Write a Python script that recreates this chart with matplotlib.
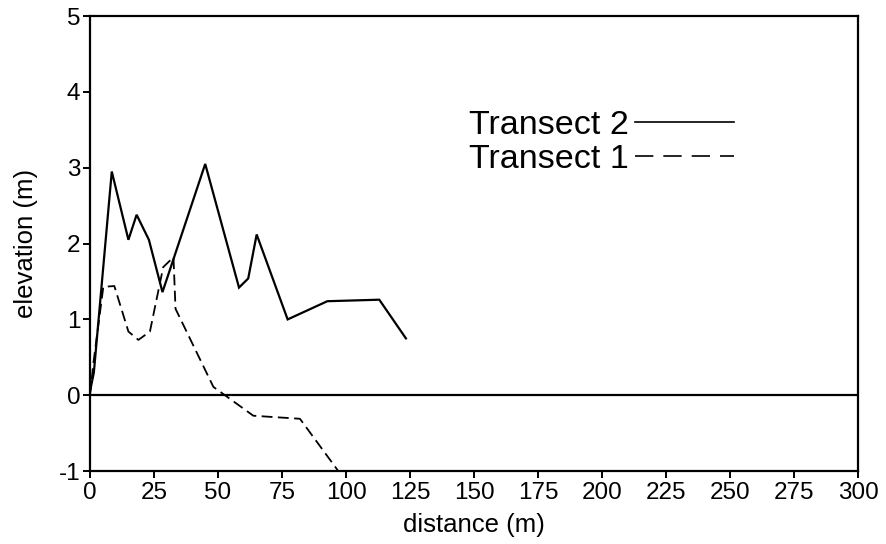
import matplotlib
matplotlib.use("Agg")
import matplotlib.pyplot as plt
from matplotlib.lines import Line2D

plt.rcParams["font.family"] = ["Liberation Sans", "DejaVu Sans"]
plt.rcParams["axes.unicode_minus"] = False

# beach profile, transect 2 (solid)
t2_dist = [0, 1.5, 8.5, 15, 18.2, 23, 28.3, 45, 58.2, 61.8, 65.1, 77.2, 92.7, 113, 123.4]
t2_elev = [0.05, 0.3, 2.95, 2.05, 2.38, 2.05, 1.36, 3.05, 1.42, 1.54, 2.12, 1.0, 1.24, 1.26, 0.75]

# beach profile, transect 1 (dashed)
t1_dist = [0, 1.3, 5.2, 9.5, 15, 18.9, 23.4, 28.6, 32.6, 33.4, 48.2, 63.8, 82, 97]
t1_elev = [0.0, 0.42, 1.43, 1.44, 0.84, 0.73, 0.84, 1.69, 1.82, 1.14, 0.11, -0.27, -0.31, -1.0]

x_ticks = list(range(0, 301, 25))
y_ticks = [-1, 0, 1, 2, 3, 4, 5]

fig = plt.figure(figsize=(8.86, 5.44), dpi=100)
ax = fig.add_axes([0.1016, 0.134, 0.8668, 0.8365])

ax.axhline(0, color="black", lw=1.6, zorder=1)
ax.plot(t2_dist, t2_elev, color="black", lw=1.6, solid_joinstyle="miter")
ax.plot(t1_dist, t1_elev, color="black", lw=1.3, dashes=(6, 3))

ax.set_xlim(0, 300)
ax.set_ylim(-1, 5)
ax.set_xticks(x_ticks)
ax.set_yticks(y_ticks)
ax.tick_params(direction="out", length=5, width=1.4, labelsize=17.5, pad=2)
ax.tick_params(axis="x", pad=3)
for s in ax.spines.values():
    s.set_linewidth(1.6)

ax.set_xlabel("distance (m)", fontsize=18.5, labelpad=6)
ax.set_ylabel("elevation (m)", fontsize=18.5, labelpad=15)

handles = [
    Line2D([], [], color="black", lw=1.2),
    Line2D([], [], color="black", lw=1.2, dashes=(11, 6)),
]
ax.legend(handles, ["Transect 2", "Transect 1"], loc="upper left",
          bbox_to_anchor=(0.493, 0.793), frameon=False, markerfirst=False,
          fontsize=24.5, handlelength=2.9, handletextpad=0.2,
          labelspacing=0.08, borderpad=0, borderaxespad=0)

fig.savefig("out.png", dpi=100)
